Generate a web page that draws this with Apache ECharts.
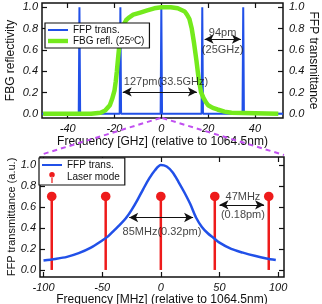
<!DOCTYPE html>
<html><head><meta charset="utf-8">
<script src="https://cdn.jsdelivr.net/npm/echarts@6/dist/echarts.min.js"></script>
<style>html,body{margin:0;padding:0;background:#fff}#c{width:322px;height:304px}</style>
</head><body><div id="c"></div>
<script>
// ---- data ----
// top panel: FBG reflectivity (GHz vs reflectivity)
const fbgX = [-50.5,-40,-30,-26,-24,-22,-21,-20,-19.5,-19,-18.5,-18,-17,-16,-15,-14,-12,-9,-6,-3,0,4,7,10,11,12,13,14,15,16,17,18,19,20,22,24,27,30,40,50];
const fbgY = [0,0,0,0.01,0.03,0.08,0.14,0.22,0.3,0.4,0.52,0.63,0.76,0.84,0.88,0.9,0.93,0.95,0.97,0.99,1.0,1.0,0.99,0.96,0.93,0.89,0.8,0.66,0.5,0.32,0.2,0.15,0.11,0.08,0.055,0.04,0.02,0.01,0.005,0];
// top panel: FFP transmission comb (GHz vs transmittance)
const ffpTopX = [-51,-35.3,-35,-34.7,-17.8,-17.5,-17.2,-0.3,0,0.3,17.2,17.5,17.8,34.7,35,35.3,52];
const ffpTopY = [0,0,1,0,0,1,0,0,1,0,0,1,0,0,1,0,0];
// bottom panel: FFP transmission (MHz vs a.u.)
const ffpBotX = [-100,-90,-80,-70,-60,-50,-45,-40,-35,-30,-25,-20,-15,-10,-5,0,5,10,15,20,25,30,35,40,45,50,60,70,80,90,98];
const ffpBotY = [0.09,0.105,0.125,0.16,0.21,0.28,0.32,0.375,0.43,0.49,0.57,0.665,0.77,0.87,0.95,1.0,0.985,0.93,0.84,0.74,0.63,0.5,0.41,0.35,0.305,0.26,0.2,0.165,0.135,0.11,0.095];
// bottom panel: laser modes
const modeX = [-93,-47,0,46,92];
const modeY = [0.7,0.7,0.7,0.7,0.7];
// ticks
const topXTicks = [-40,-20,0,20,40];
const botXTicks = [-100,-50,0,50,100];
const yTicks = [0,0.2,0.4,0.6,0.8,1.0];
// annotations
const arrowsTop = [[-16.5,0.205,15.2,0.205],[18.5,0.70,34,0.70]];
const textsTop = [[2,0.30,'127pm(33.5GHz)'],[26.2,0.76,'94pm'],[26.2,0.60,'(25GHz)']];
const arrowsBot = [[-27,0.50,27.5,0.50],[50,0.62,88,0.62]];
const textsBot = [[1,0.36,'85MHz(0.32pm)'],[70,0.70,'47MHz'],[70,0.525,'(0.18pm)']];

const BLUE='#2150e8', GREEN='#74ea1c', RED='#ee1b1b', INK='#111';
const FONT='"Liberation Sans", Arial, sans-serif';

function xAx(grid, min, max, ticks, pos, name, gap){
  return {gridIndex:grid,type:'value',min:min,max:max,position:pos,
    axisLine:{show:false,onZero:false},splitLine:{show:false},
    axisTick:{show:true,inside:true,length:5,customValues:ticks,lineStyle:{color:INK,width:1.2}},
    axisLabel:{show:pos==='bottom',customValues:ticks,fontStyle:'italic',fontSize:11,color:INK,margin:5,fontFamily:FONT},
    name:name||'',nameLocation:'middle',nameGap:gap||0,nameTextStyle:{fontSize:12,color:INK,fontFamily:FONT}};
}
function yAx(grid, min, max, pos, showLabel, name, gap, rot, fs){
  const a={gridIndex:grid,type:'value',min:min,max:max,position:pos,
    axisLine:{show:false,onZero:false},splitLine:{show:false},
    axisTick:{show:true,inside:true,length:5,customValues:yTicks,lineStyle:{color:INK,width:1.2}},
    axisLabel:{show:showLabel,customValues:yTicks,fontStyle:'italic',fontSize:11,color:INK,margin:pos==='left'?4:6,fontFamily:FONT,formatter:v=>v.toFixed(1)},
    name:name||'',nameLocation:'middle',nameGap:gap||0,nameMoveOverlap:false,nameTextStyle:{fontSize:fs||12,color:INK,fontFamily:FONT}};
  if(rot!==undefined) a.nameRotate=rot;
  return a;
}
function arrowML(list){
  return {silent:true,symbol:['arrow','arrow'],symbolSize:[7,9],
    lineStyle:{color:INK,width:1.2,type:'solid'},label:{show:false},emphasis:{disabled:true},
    data:list.map(a=>[{coord:[a[0],a[1]]},{coord:[a[2],a[3]]}])};
}
function textSeries(xi,yi,list){
  return {type:'scatter',xAxisIndex:xi,yAxisIndex:yi,symbolSize:0,silent:true,z:6,
    itemStyle:{color:'rgba(0,0,0,0)'},
    label:{show:true,position:'inside',fontSize:11,color:INK,fontFamily:FONT,formatter:p=>p.value[2]},
    data:list.map(t=>[t[0],t[1],t[2]])};
}
const pinIcon='path://M5,0A4,4 0 1,0 5.01,0ZM4.1,7H5.9V16H4.1Z';
const thinLineIcon='path://M0,0M20,10M0,4H20V6H0Z';
const thickLineIcon='path://M0,0M20,10M0,2.8H20V7.2H0Z';

const chart = echarts.init(document.getElementById('c'));
const option = {
  animation:false,backgroundColor:'#fff',
  textStyle:{fontFamily:FONT},
  grid:[
    {left:42,right:39,top:3,height:115,show:true,borderColor:INK,borderWidth:1.5,outerBoundsMode:'none',containLabel:false},
    {left:40,right:38,top:157,height:120,show:true,borderColor:INK,borderWidth:1.5,outerBoundsMode:'none',containLabel:false}
  ],
  xAxis:[
    xAx(0,-51,52,topXTicks,'bottom','Frequency [GHz] (relative to 1064.5nm)',18),
    xAx(0,-51,52,topXTicks,'top'),
    xAx(1,-103,105,botXTicks,'bottom','Frequency [MHz] (relative to 1064.5nm)',14),
    xAx(1,-103,105,botXTicks,'top')
  ],
  yAxis:[
    yAx(0,-0.04,1.04,'left',true,'FBG reflectivity',25),
    yAx(0,-0.04,1.04,'right',true,'FFP transmittance',24,-90),
    yAx(1,-0.067,1.076,'left',true,'FFP transmittance (a.u.)',23,undefined,11),
    yAx(1,-0.067,1.076,'right',false)
  ],
  legend:[
    {data:[{name:'FFP trans.',icon:thinLineIcon},{name:'FBG refl. (25ºC)',icon:thickLineIcon}],left:45,top:23,orient:'vertical',
     padding:[2,5,2,3],itemGap:1,itemWidth:20,itemHeight:10,
     borderColor:INK,borderWidth:1.2,backgroundColor:'#fff',borderRadius:0,
     textStyle:{fontSize:10,color:INK,fontFamily:FONT},selectedMode:false,z:5},
    {data:[{name:'FFP trans.',icon:thinLineIcon},{name:'Laser mode',icon:pinIcon}],left:39,top:158,orient:'vertical',
     padding:[2,5,2,3],itemGap:2,itemWidth:20,itemHeight:11,
     borderColor:INK,borderWidth:1.2,backgroundColor:'#fff',borderRadius:0,
     textStyle:{fontSize:10,color:INK,fontFamily:FONT},selectedMode:false,z:5}
  ],
  series:[
    {name:'FFP trans.',type:'line',xAxisIndex:0,yAxisIndex:1,symbol:'none',z:2,
     lineStyle:{color:BLUE,width:2},itemStyle:{color:BLUE},
     data:ffpTopX.map((x,i)=>[x,ffpTopY[i]])},
    {name:'FBG refl. (25ºC)',type:'line',xAxisIndex:0,yAxisIndex:0,symbol:'none',z:3,
     lineStyle:{color:GREEN,width:4.5},itemStyle:{color:GREEN},
     data:fbgX.map((x,i)=>[x,fbgY[i]]),markLine:arrowML(arrowsTop)},
    textSeries(0,0,textsTop),
    {name:'FFP trans.',type:'line',xAxisIndex:2,yAxisIndex:2,symbol:'none',z:3,smooth:0.3,
     lineStyle:{color:BLUE,width:2.5},itemStyle:{color:BLUE},
     data:ffpBotX.map((x,i)=>[x,ffpBotY[i]]),markLine:arrowML(arrowsBot)},
    {name:'Laser mode',type:'custom',xAxisIndex:2,yAxisIndex:2,z:2,itemStyle:{color:RED},
     encode:{x:0,y:1},
     renderItem:function(params,api){
       const x=api.value(0), y=api.value(1);
       const b=api.coord([x,0]), t=api.coord([x,y]);
       return {type:'group',children:[
         {type:'line',shape:{x1:b[0],y1:b[1],x2:t[0],y2:t[1]},style:{stroke:RED,lineWidth:2.5}},
         {type:'circle',shape:{cx:t[0],cy:t[1],r:4.8},style:{fill:RED}}
       ]};
     },
     data:modeX.map((x,i)=>[x,modeY[i]])},
    textSeries(2,2,textsBot)
  ]
};
chart.setOption(option);
const p0=chart.convertToPixel({xAxisIndex:0,yAxisIndex:0},[0,-0.04]);
const pl=chart.convertToPixel({xAxisIndex:2,yAxisIndex:2},[-103,1.076]);
const pr=chart.convertToPixel({xAxisIndex:2,yAxisIndex:2},[105,1.076]);
chart.setOption({graphic:[
  {type:'line',shape:{x1:p0[0]-1,y1:p0[1],x2:pl[0],y2:pl[1]-2},style:{stroke:'#c14ff0',lineWidth:2,lineDash:[5,4]},z:10,silent:true},
  {type:'line',shape:{x1:p0[0]+1,y1:p0[1],x2:pr[0],y2:pr[1]-2},style:{stroke:'#c14ff0',lineWidth:2,lineDash:[5,4]},z:10,silent:true}
]});
</script></body></html>
